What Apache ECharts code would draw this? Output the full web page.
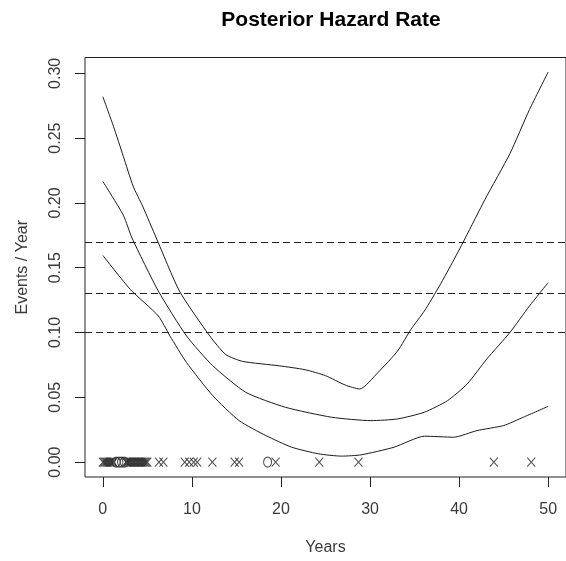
<!DOCTYPE html>
<html>
<head>
<meta charset="utf-8">
<script src="https://cdn.jsdelivr.net/npm/echarts@6/dist/echarts.min.js"></script>
<style>html,body{margin:0;padding:0;background:#fff}#c{width:566px;height:561px}</style>
</head>
<body>
<div id="c"></div>
<script>
// ---- data ----
const upperYears = [0, 1.2, 2.3, 3.4, 4.5, 6.0, 8.6, 12.0, 13.8, 15.7, 19.8, 22.7, 25.0, 27.2, 28.85, 30.9, 33.1, 34.6, 36.1, 37.8, 39.4, 40.7, 42.9, 45.7, 47.9, 50];
const upperRate  = [0.282, 0.259, 0.236, 0.213, 0.197, 0.173, 0.132, 0.0974, 0.083, 0.0777, 0.0743, 0.0713, 0.0667, 0.0595, 0.0564, 0.0692, 0.0858, 0.1025, 0.1166, 0.136, 0.156, 0.173, 0.2026, 0.238, 0.272, 0.301];
const midYears = [0, 1.05, 2.34, 3.27, 6.23, 9.39, 12.35, 16.06, 20.5, 25.7, 30.1, 33.1, 36.1, 38.7, 40.9, 43.1, 45.7, 47.9, 50];
const midRate  = [0.2166, 0.205, 0.19, 0.173, 0.132, 0.0974, 0.0743, 0.0538, 0.0423, 0.0346, 0.032, 0.0333, 0.0385, 0.0474, 0.0602, 0.0795, 0.1, 0.1205, 0.1385];
const lowYears = [0, 3.08, 6.23, 7.53, 9.39, 12.35, 15.3, 18.3, 21.2, 24.2, 26.8, 29.0, 32.7, 36.1, 39.4, 42.0, 45.0, 47.2, 50];
const lowRate  = [0.1595, 0.1333, 0.1128, 0.0974, 0.0769, 0.0512, 0.032, 0.0205, 0.0115, 0.0064, 0.0046, 0.0056, 0.0115, 0.02, 0.0192, 0.0243, 0.0282, 0.0346, 0.043];
const refLevels = [0.0974, 0.132, 0.1731];
const eventYears = [0, 0.15, 0.3, 0.45, 0.6, 0.75, 0.9, 1.05, 1.2, 2.6, 2.75, 2.9, 3.05, 3.2, 3.35, 3.5, 3.65, 3.8, 3.95, 4.1, 4.25, 4.4, 4.55, 4.7, 4.85, 5.0, 6.3, 6.8, 9.2, 9.7, 10.2, 10.6, 12.3, 14.8, 15.3, 19.4, 24.3, 28.7, 43.9, 48.1];
const censorYears = [1.5, 1.8, 2.1, 2.4, 18.5];
const xTicks = [0, 10, 20, 30, 40, 50];
const yTicks = [0, 0.05, 0.10, 0.15, 0.20, 0.25, 0.30];

const pair = (xs, ys) => xs.map((x, i) => [x, ys[i]]);
const lineCol = '#1a1a1a';
const txtCol = '#3a3a3a';
const font = 'Liberation Sans, Arial, sans-serif';

const chart = echarts.init(document.getElementById('c'), null, {renderer: 'canvas'});
const lineSeries = (d) => ({
  type: 'line', data: d, showSymbol: false, smooth: 0.2, silent: true,
  lineStyle: {color: lineCol, width: 1}, z: 3
});
chart.setOption({
  animation: false,
  backgroundColor: '#fff',
  title: {
    text: 'Posterior Hazard Rate', left: 326, top: 5, textAlign: 'center',
    textStyle: {fontFamily: font, fontWeight: 'bold', fontSize: 21, color: '#000'}
  },
  grid: {left: 85, top: 57.5, width: 485, height: 421, show: true, borderColor: '#222', borderWidth: 1, containLabel: false},
  xAxis: {
    type: 'value', min: -2, max: 52,
    name: 'Years', nameLocation: 'middle', nameGap: 63,
    nameTextStyle: {fontFamily: font, fontSize: 16, color: txtCol},
    axisLine: {show: false, onZero: false},
    axisTick: {show: true, length: 10, inside: false, customValues: xTicks, lineStyle: {color: '#222'}},
    axisLabel: {customValues: xTicks, fontFamily: font, fontSize: 16, color: txtCol, margin: 25},
    splitLine: {show: false}
  },
  yAxis: {
    type: 'value', min: -0.0115, max: 0.3122,
    name: 'Events / Year', nameLocation: 'middle', nameGap: 54, nameRotate: 90,
    nameTextStyle: {fontFamily: font, fontSize: 16, color: txtCol},
    axisLine: {show: false, onZero: false},
    axisTick: {show: true, length: 10, customValues: yTicks, lineStyle: {color: '#222'}},
    axisLabel: {customValues: yTicks, rotate: 90, fontFamily: font, fontSize: 16, color: txtCol, margin: 21,
      formatter: v => v.toFixed(2)},
    splitLine: {show: false}
  },
  series: [
    lineSeries(pair(upperYears, upperRate)),
    lineSeries(pair(midYears, midRate)),
    Object.assign(lineSeries(pair(lowYears, lowRate)), {
      markLine: {
        silent: true, symbol: ['none', 'none'], label: {show: false},
        lineStyle: {color: '#222', width: 1, type: [7, 4]},
        data: refLevels.map(v => ({yAxis: v}))
      }
    }),
    {
      type: 'scatter', data: eventYears.map(x => [x, 0]), silent: true,
      symbol: 'path://M0 0L10 10M10 0L0 10', symbolSize: [8, 9],
      itemStyle: {color: 'rgba(0,0,0,0)', borderColor: '#2a2a2a', borderWidth: 1.2}, z: 4
    },
    {
      type: 'scatter', data: censorYears.map(x => [x, 0]), silent: true,
      symbol: 'circle', symbolSize: [8, 10],
      itemStyle: {color: 'rgba(0,0,0,0)', borderColor: '#2a2a2a', borderWidth: 1.2}, z: 4
    }
  ]
});
</script>
</body>
</html>
